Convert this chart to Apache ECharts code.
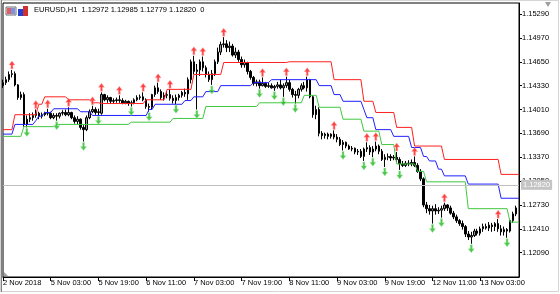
<!DOCTYPE html>
<html>
<head>
<meta charset="utf-8">
<script src="https://cdn.jsdelivr.net/npm/echarts@6/dist/echarts.min.js"></script>
<style>html,body{margin:0;padding:0;background:#fff}#c{width:560px;height:294px}</style>
</head>
<body>
<div id="c"></div>
<script>
// ---------- DATA ----------
const symbolName = 'EURUSD,H1';
const headerQuote = [1.12972, 1.12985, 1.12779, 1.12820]; // O H L C shown in header
const currentPrice = 1.12820;

// hourly sessions (day label, first hour, last hour)
const sessions = [['2 Nov',11,23],['5 Nov',0,23],['6 Nov',0,23],['7 Nov',0,23],['8 Nov',0,23],['9 Nov',0,23],['12 Nov',0,23],['13 Nov',0,16]];
const categories = [];
sessions.forEach(s => { for (let h = s[1]; h <= s[2]; h++) categories.push(s[0] + ' ' + String(h).padStart(2,'0') + ':00'); });

const xTickLabels = ['2 Nov 2018','5 Nov 03:00','5 Nov 19:00','6 Nov 11:00','7 Nov 03:00','7 Nov 19:00','8 Nov 11:00','9 Nov 03:00','9 Nov 19:00','12 Nov 11:00','13 Nov 03:00'];
const yTicks = [1.12090,1.12410,1.12730,1.13050,1.13370,1.13690,1.14010,1.14330,1.14650,1.14970,1.15290];

const opens = [1.1433,1.1437,1.1441,1.1448,1.1449,1.1434,1.1417,1.1421,1.1381,1.1388,
1.1390,1.1393,1.1396,1.1392,1.1394,1.1397,1.1396,1.1390,1.1393,1.1392,
1.1396,1.1397,1.1394,1.1397,1.1390,1.1385,1.1388,1.1377,1.1374,1.1390,
1.1398,1.1401,1.1397,1.1396,1.1421,1.1414,1.1417,1.1412,1.1413,1.1414,
1.1413,1.1410,1.1412,1.1409,1.1410,1.1414,1.1417,1.1418,1.1414,1.1405,
1.1404,1.1421,1.1430,1.1425,1.1417,1.1420,1.1421,1.1416,1.1413,1.1417,
1.1420,1.1424,1.1422,1.1441,1.1465,1.1452,1.1454,1.1465,1.1457,1.1448,
1.1441,1.1449,1.1465,1.1478,1.1488,1.1489,1.1484,1.1486,1.1474,1.1478,
1.1468,1.1461,1.1464,1.1452,1.1444,1.1436,1.1438,1.1433,1.1436,1.1432,
1.1433,1.1430,1.1432,1.1434,1.1430,1.1433,1.1437,1.1428,1.1421,1.1420,
1.1428,1.1433,1.1430,1.1441,1.1418,1.1394,1.1401,1.1369,1.1366,1.1368,
1.1365,1.1368,1.1364,1.1361,1.1354,1.1357,1.1352,1.1348,1.1349,1.1344,
1.1345,1.1338,1.1348,1.1350,1.1344,1.1348,1.1352,1.1345,1.1334,1.1337,
1.1338,1.1336,1.1337,1.1334,1.1328,1.1326,1.1329,1.1328,1.1330,1.1326,
1.1318,1.1308,1.1273,1.1268,1.1265,1.1268,1.1265,1.1266,1.1268,1.1273,
1.1269,1.1262,1.1257,1.1252,1.1248,1.1244,1.1234,1.1230,1.1232,1.1238,
1.1235,1.1241,1.1244,1.1242,1.1246,1.1244,1.1248,1.1241,1.1237,1.1240,
1.1238,1.1252,1.1261];
const closes = [1.1437,1.1441,1.1448,1.1449,1.1434,1.1417,1.1421,1.1381,1.1388,1.1390,
1.1393,1.1396,1.1392,1.1394,1.1397,1.1396,1.1390,1.1393,1.1392,1.1396,
1.1397,1.1394,1.1397,1.1390,1.1385,1.1388,1.1377,1.1374,1.1390,1.1398,
1.1401,1.1397,1.1398,1.1421,1.1414,1.1417,1.1412,1.1413,1.1414,1.1413,
1.1410,1.1412,1.1409,1.1410,1.1414,1.1417,1.1418,1.1414,1.1405,1.1404,
1.1421,1.1430,1.1425,1.1417,1.1420,1.1421,1.1416,1.1413,1.1417,1.1420,
1.1424,1.1422,1.1441,1.1465,1.1452,1.1454,1.1465,1.1457,1.1448,1.1441,
1.1449,1.1465,1.1478,1.1488,1.1489,1.1484,1.1486,1.1474,1.1478,1.1468,
1.1461,1.1464,1.1452,1.1444,1.1436,1.1438,1.1433,1.1436,1.1432,1.1433,
1.1430,1.1432,1.1434,1.1430,1.1433,1.1437,1.1428,1.1421,1.1420,1.1428,
1.1433,1.1430,1.1441,1.1418,1.1394,1.1401,1.1369,1.1366,1.1368,1.1365,
1.1368,1.1364,1.1361,1.1354,1.1357,1.1352,1.1348,1.1349,1.1344,1.1345,
1.1338,1.1348,1.1350,1.1344,1.1348,1.1352,1.1345,1.1334,1.1337,1.1338,
1.1336,1.1337,1.1334,1.1328,1.1326,1.1329,1.1328,1.1330,1.1326,1.1318,
1.1308,1.1273,1.1268,1.1265,1.1268,1.1265,1.1266,1.1268,1.1273,1.1269,
1.1262,1.1257,1.1252,1.1248,1.1244,1.1234,1.1230,1.1232,1.1238,1.1235,
1.1241,1.1244,1.1242,1.1246,1.1244,1.1248,1.1241,1.1237,1.1240,1.1238,
1.1252,1.1261,1.1269];
const lows = [1.1430,1.1434,1.1438,1.1444,1.1432,1.1414,1.1414,1.1378,1.1377,1.1384,
1.1386,1.1390,1.1388,1.1389,1.1392,1.1393,1.1388,1.1388,1.1386,1.1389,
1.1393,1.1392,1.1392,1.1388,1.1382,1.1381,1.1374,1.1358,1.1372,1.1388,
1.1396,1.1394,1.1393,1.1394,1.1412,1.1410,1.1409,1.1409,1.1410,1.1410,
1.1408,1.1408,1.1406,1.1405,1.1408,1.1412,1.1414,1.1412,1.1402,1.1398,
1.1401,1.1418,1.1422,1.1414,1.1413,1.1416,1.1413,1.1409,1.1408,1.1413,
1.1417,1.1418,1.1414,1.1436,1.1448,1.1401,1.1446,1.1452,1.1444,1.1438,
1.1434,1.1446,1.1462,1.1474,1.1484,1.1478,1.1478,1.1472,1.1470,1.1465,
1.1457,1.1457,1.1448,1.1441,1.1433,1.1432,1.1429,1.1432,1.1430,1.1430,
1.1429,1.1426,1.1429,1.1428,1.1418,1.1430,1.1425,1.1417,1.1409,1.1416,
1.1425,1.1428,1.1425,1.1416,1.1390,1.1388,1.1365,1.1361,1.1362,1.1361,
1.1362,1.1361,1.1357,1.1352,1.1346,1.1349,1.1347,1.1345,1.1341,1.1340,
1.1336,1.1332,1.1344,1.1340,1.1337,1.1345,1.1341,1.1332,1.1324,1.1333,
1.1332,1.1333,1.1330,1.1320,1.1324,1.1324,1.1325,1.1325,1.1324,1.1316,
1.1305,1.1270,1.1262,1.1260,1.1248,1.1260,1.1261,1.1256,1.1265,1.1265,
1.1260,1.1254,1.1249,1.1245,1.1240,1.1230,1.1226,1.1221,1.1230,1.1232,
1.1232,1.1237,1.1240,1.1238,1.1237,1.1238,1.1237,1.1232,1.1232,1.1229,
1.1236,1.1249,1.1258];
const highs = [1.1441,1.1445,1.1452,1.1454,1.1452,1.1435,1.1425,1.1424,1.1393,1.1396,
1.1397,1.1401,1.1398,1.1397,1.1398,1.1402,1.1398,1.1396,1.1396,1.1397,
1.1400,1.1401,1.1404,1.1398,1.1393,1.1392,1.1389,1.1380,1.1393,1.1401,
1.1406,1.1404,1.1402,1.1424,1.1422,1.1420,1.1418,1.1416,1.1417,1.1420,
1.1416,1.1414,1.1413,1.1413,1.1416,1.1420,1.1421,1.1424,1.1416,1.1409,
1.1422,1.1433,1.1437,1.1428,1.1424,1.1425,1.1428,1.1420,1.1421,1.1422,
1.1426,1.1429,1.1444,1.1468,1.1473,1.1462,1.1468,1.1472,1.1460,1.1452,
1.1454,1.1468,1.1484,1.1492,1.1498,1.1494,1.1492,1.1489,1.1484,1.1481,
1.1472,1.1468,1.1465,1.1454,1.1446,1.1441,1.1441,1.1444,1.1438,1.1437,
1.1436,1.1434,1.1438,1.1441,1.1436,1.1445,1.1441,1.1430,1.1426,1.1430,
1.1436,1.1438,1.1445,1.1442,1.1420,1.1406,1.1404,1.1372,1.1370,1.1370,
1.1369,1.1373,1.1368,1.1364,1.1360,1.1358,1.1354,1.1352,1.1350,1.1348,
1.1348,1.1350,1.1357,1.1353,1.1352,1.1358,1.1354,1.1348,1.1341,1.1342,
1.1341,1.1340,1.1344,1.1337,1.1332,1.1332,1.1333,1.1334,1.1338,1.1329,
1.1321,1.1310,1.1277,1.1273,1.1272,1.1274,1.1270,1.1272,1.1276,1.1274,
1.1272,1.1265,1.1260,1.1254,1.1252,1.1246,1.1238,1.1237,1.1241,1.1241,
1.1244,1.1248,1.1248,1.1250,1.1249,1.1250,1.1254,1.1246,1.1244,1.1242,
1.1254,1.1264,1.1272];

// indicator step lines: [bar index, price] at both ends of each flat run
const redLine = [[0,1.1374],[3,1.1374],[4,1.1394],[11,1.1394],[12,1.1408],[13,1.1408],[14,1.1418],[21,1.1418],[22,1.1414],[29,1.1414],[30,1.1410],[32,1.1410],[33,1.1409],[47,1.1409],[48,1.1414],[54,1.1414],[55,1.1428],[63,1.1428],[64,1.1448],[73,1.1448],[74,1.1464],[95,1.1464],[96,1.1465],[110,1.1465],[111,1.1441],[120,1.1441],[121,1.1412],[124,1.1412],[125,1.1397],[131,1.1397],[132,1.1377],[137,1.1377],[138,1.1352],[147,1.1352],[148,1.1334],[166,1.1334],[167,1.1314],[173,1.1314]];
const blueLine = [[0,1.1368],[3,1.1368],[4,1.1381],[10,1.1381],[11,1.1386],[12,1.1392],[13,1.1392],[14,1.1397],[16,1.1397],[17,1.1402],[25,1.1402],[26,1.1398],[29,1.1398],[30,1.1393],[48,1.1393],[49,1.1401],[50,1.1401],[51,1.1408],[60,1.1408],[61,1.1413],[63,1.1413],[64,1.1418],[67,1.1418],[68,1.1425],[72,1.1425],[73,1.1433],[83,1.1433],[84,1.1437],[89,1.1437],[90,1.1441],[105,1.1441],[106,1.1433],[110,1.1433],[111,1.1421],[113,1.1421],[114,1.1412],[120,1.1412],[121,1.1401],[122,1.1390],[124,1.1390],[125,1.1374],[130,1.1374],[131,1.1365],[136,1.1365],[137,1.1350],[140,1.1350],[141,1.1338],[142,1.1338],[143,1.1332],[145,1.1332],[146,1.1321],[147,1.1321],[148,1.1312],[155,1.1312],[156,1.1301],[166,1.1301],[167,1.1282],[173,1.1282]];
const greenLine = [[0,1.1365],[6,1.1365],[7,1.1378],[17,1.1378],[18,1.1381],[42,1.1381],[43,1.1384],[56,1.1384],[57,1.1389],[67,1.1389],[68,1.1405],[85,1.1405],[86,1.1410],[100,1.1410],[101,1.1420],[105,1.1420],[106,1.1404],[113,1.1404],[114,1.1388],[120,1.1388],[121,1.1372],[126,1.1372],[127,1.1354],[131,1.1354],[132,1.1328],[138,1.1328],[139,1.1318],[141,1.1318],[142,1.1304],[155,1.1304],[156,1.1268],[169,1.1268],[170,1.1250],[173,1.1250]];

// fractals: [bar index, bar high / bar low]
const upFractals = [[3,1.1454],[11,1.1401],[15,1.1402],[22,1.1404],[30,1.1406],[33,1.1424],[39,1.1420],[47,1.1424],[52,1.1437],[56,1.1428],[64,1.1473],[67,1.1472],[74,1.1498],[87,1.1444],[95,1.1445],[102,1.1445],[111,1.1373],[122,1.1357],[125,1.1358],[132,1.1344],[138,1.1338],[148,1.1276],[166,1.1254]];
const downFractals = [[8,1.1377],[18,1.1386],[27,1.1358],[32,1.1393],[43,1.1405],[49,1.1398],[58,1.1408],[65,1.1401],[70,1.1434],[86,1.1429],[91,1.1426],[94,1.1418],[98,1.1409],[114,1.1346],[121,1.1332],[124,1.1337],[128,1.1324],[133,1.1320],[144,1.1248],[147,1.1256],[157,1.1221],[169,1.1229]];

// ---------- CHART ----------
const candles = opens.map((o, i) => [o, closes[i], lows[i], highs[i]]);
const FONT = 'Liberation Sans';
const FS = 7.5;
const UP_ARROW = 'path://M3,0 L6,4 L4,4 L4,8 L2,8 L2,4 L0,4 Z';
const DOWN_ARROW = 'path://M2,0 L4,0 L4,4 L6,4 L3,8 L0,4 L2,4 Z';
const chart = echarts.init(document.getElementById('c'), null, {renderer: 'canvas'});
chart.setOption({
  animation: false,
  backgroundColor: '#ffffff',
  title: {
    text: symbolName + '  ' + headerQuote.map(v => v.toFixed(5)).join(' ') + '  0',
    left: 34, top: 6, padding: 0,
    textStyle: {fontFamily: FONT, fontSize: FS, fontWeight: 'normal', color: '#000'}
  },
  grid: {left: 3, right: 41, top: 3, bottom: 17, show: true, borderColor: '#000', borderWidth: 1, backgroundColor: '#fff'},
  xAxis: {
    type: 'category', data: categories, boundaryGap: false,
    axisLine: {show: true, lineStyle: {color: '#000', width: 1}},
    axisTick: {show: true, interval: 15, length: 4, lineStyle: {color: '#000'}},
    axisLabel: {interval: 15, align: 'left', margin: 2, fontFamily: FONT, fontSize: FS, color: '#000',
      formatter: (v, i) => (i % 16 === 0 ? (xTickLabels[i / 16] || '') : '')},
    splitLine: {show: false}
  },
  yAxis: {
    type: 'value', position: 'right', min: 1.11764, max: 1.15438, scale: true,
    axisLine: {show: true, lineStyle: {color: '#000', width: 1}},
    axisTick: {show: true, length: 3, customValues: yTicks, lineStyle: {color: '#000'}},
    axisLabel: {customValues: yTicks, margin: 3, fontFamily: FONT, fontSize: FS, color: '#000',
      formatter: v => v.toFixed(5)},
    splitLine: {show: false}
  },
  series: [
    {
      type: 'candlestick', data: candles, barWidth: 2, clip: true,
      itemStyle: {color: '#9a9a9a', color0: '#000000', borderColor: '#000000', borderColor0: '#000000', borderWidth: 1},
      markLine: {
        silent: true, symbol: 'none', animation: false,
        lineStyle: {color: '#c0c0c0', width: 1, type: 'solid'},
        label: {show: true, position: 'end', distance: 2, formatter: currentPrice.toFixed(5),
          backgroundColor: '#c4c4c4', color: '#ffffff', padding: [1, 2, 1, 2], fontFamily: FONT, fontSize: FS},
        data: [{yAxis: currentPrice}]
      },
      z: 2
    },
    {type: 'line', data: redLine, showSymbol: false, symbol: 'none', lineStyle: {color: '#ff2020', width: 1}, z: 3},
    {type: 'line', data: blueLine, showSymbol: false, symbol: 'none', lineStyle: {color: '#2020ff', width: 1}, z: 3},
    {type: 'line', data: greenLine, showSymbol: false, symbol: 'none', lineStyle: {color: '#40c840', width: 1}, z: 3},
    {
      type: 'scatter', data: upFractals, z: 4,
      symbol: UP_ARROW, symbolSize: [6, 8], symbolOffset: [0, -5],
      itemStyle: {color: '#ff1010', borderColor: '#ffb0b0', borderWidth: 0.6}
    },
    {
      type: 'scatter', data: downFractals, z: 4,
      symbol: DOWN_ARROW, symbolSize: [6, 8], symbolOffset: [0, 5],
      itemStyle: {color: '#20b820', borderColor: '#a8e8a8', borderWidth: 0.6}
    }
  ],
  graphic: [
    {type: 'rect', shape: {x: 0.5, y: 0.5, width: 558, height: 291}, style: {fill: 'none', stroke: '#d4d4d4', lineWidth: 1}, silent: true},
    {type: 'line', shape: {x1: 1.5, y1: 0, x2: 1.5, y2: 292}, style: {stroke: '#808080', lineWidth: 1}, silent: true},
    {type: 'rect', shape: {x: 6, y: 7, width: 10, height: 8}, style: {fill: '#eef', stroke: '#707070', lineWidth: 1}, silent: true},
    {type: 'rect', shape: {x: 7, y: 8, width: 4, height: 6}, style: {fill: '#e06060'}, silent: true},
    {type: 'rect', shape: {x: 11, y: 8, width: 4, height: 6}, style: {fill: '#8090e0'}, silent: true},
    {type: 'rect', shape: {x: 18, y: 9, width: 5, height: 7}, style: {fill: '#2040d0'}, silent: true},
    {type: 'rect', shape: {x: 23, y: 6, width: 5, height: 10}, style: {fill: '#d03030'}, silent: true},
    {type: 'polygon', shape: {points: [[545, 2], [551, 2], [548, 7]]}, style: {fill: '#a0a0a0'}, silent: true},
    {type: 'polygon', shape: {points: [[4, 272], [4, 276], [8, 276]]}, style: {fill: '#a0a0a0'}, silent: true}
  ]
});
</script>
</body>
</html>
